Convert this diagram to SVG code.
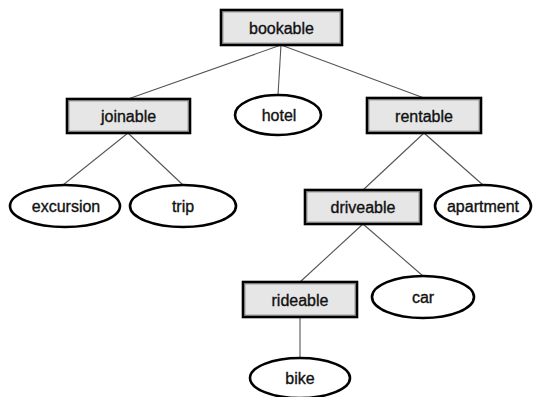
<svg xmlns="http://www.w3.org/2000/svg" width="540" height="397" viewBox="0 0 540 397">
  <style>
    .box { fill: #e6e6e6; stroke: #000; stroke-width: 2.6; }
    .inner { fill: none; stroke: #6e6e6e; stroke-width: 1; }
    .oval { fill: #fff; stroke: #000; stroke-width: 2.6; }
    .label { font-family: "Liberation Sans", Arial, sans-serif; font-size: 16px; fill: #111; stroke: #111; stroke-width: 0.35; text-anchor: middle; dominant-baseline: central; }
    .edge { stroke: #555; stroke-width: 1.1; fill: none; }
  </style>
  <rect width="540" height="397" fill="#fff"/>

  <!-- parent-to-child links: bottom centre of parent to top of child -->
  <g id="connectors">
    <line class="edge" x1="281" y1="45" x2="128" y2="99"/>
    <line class="edge" x1="281" y1="45" x2="278" y2="95"/>
    <line class="edge" x1="281" y1="45" x2="424" y2="98"/>
    <line class="edge" x1="128" y1="133" x2="63" y2="185"/>
    <line class="edge" x1="128" y1="133" x2="183" y2="185"/>
    <line class="edge" x1="424" y1="133" x2="363" y2="190"/>
    <line class="edge" x1="424" y1="133" x2="483" y2="185"/>
    <line class="edge" x1="363" y1="224" x2="300" y2="282"/>
    <line class="edge" x1="363" y1="224" x2="423" y2="276"/>
    <line class="edge" x1="300" y1="317" x2="300" y2="358"/>
  </g>

  <g id="bookable">
    <rect class="box" x="221" y="10" width="121" height="35"/>
    <rect class="inner" x="222.8" y="11.8" width="117.4" height="31.4"/>
    <text class="label" x="281.5" y="28">bookable</text>
  </g>
  <g id="joinable">
    <rect class="box" x="67" y="99" width="123" height="34"/>
    <rect class="inner" x="68.8" y="100.8" width="119.4" height="30.4"/>
    <text class="label" x="128.5" y="116.5">joinable</text>
  </g>
  <g id="hotel">
    <ellipse class="oval" cx="278" cy="115" rx="43" ry="20"/>
    <text class="label" x="279" y="115.5">hotel</text>
  </g>
  <g id="rentable">
    <rect class="box" x="367" y="98" width="114" height="35"/>
    <rect class="inner" x="368.8" y="99.8" width="110.4" height="31.4"/>
    <text class="label" x="424" y="116">rentable</text>
  </g>
  <g id="excursion">
    <ellipse class="oval" cx="65" cy="206" rx="55" ry="21"/>
    <text class="label" x="66" y="206.5">excursion</text>
  </g>
  <g id="trip">
    <ellipse class="oval" cx="183" cy="206" rx="53" ry="21"/>
    <text class="label" x="183" y="206.5">trip</text>
  </g>
  <g id="driveable">
    <rect class="box" x="305" y="190" width="116" height="34"/>
    <rect class="inner" x="306.8" y="191.8" width="112.4" height="30.4"/>
    <text class="label" x="363" y="207.5">driveable</text>
  </g>
  <g id="apartment">
    <ellipse class="oval" cx="483" cy="206" rx="48" ry="21"/>
    <text class="label" x="483" y="206.5">apartment</text>
  </g>
  <g id="rideable">
    <rect class="box" x="243" y="282" width="114" height="35"/>
    <rect class="inner" x="244.8" y="283.8" width="110.4" height="31.4"/>
    <text class="label" x="300" y="300">rideable</text>
  </g>
  <g id="car">
    <ellipse class="oval" cx="423" cy="297" rx="51" ry="21"/>
    <text class="label" x="423" y="297.5">car</text>
  </g>
  <g id="bike">
    <ellipse class="oval" cx="300" cy="378" rx="50" ry="20"/>
    <text class="label" x="300" y="378.5">bike</text>
  </g>
</svg>
